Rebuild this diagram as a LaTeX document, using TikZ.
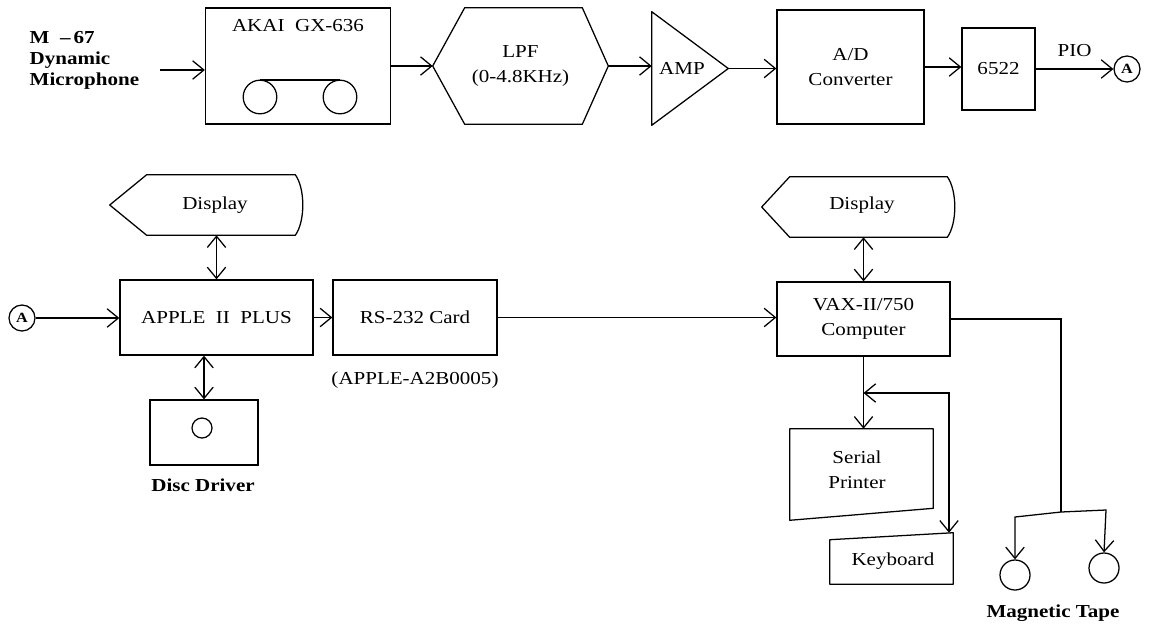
\documentclass[tikz,border=0pt]{standalone}
\usepackage{fontspec}
\setmainfont{Liberation Serif}[FakeStretch=1.15]
\usetikzlibrary{arrows.meta, positioning, calc}
\newcommand{\displayoutline}[2]{%
  \draw[outline] (#1.west) -- ([xshift=#2]#1.north west) -- ([xshift=-0.2cm]#1.north east)
    .. controls ([xshift=0.05cm,yshift=-0.35cm]#1.north east) and ([xshift=0.05cm,yshift=0.35cm]#1.south east)
    .. ([xshift=-0.2cm]#1.south east) -- ([xshift=#2]#1.south west) -- cycle;}

\begin{document}
\begin{tikzpicture}[
  x=0.025cm, y=-0.025cm,
  every node/.style={font=\fontsize{13}{18}\selectfont},
  box/.style={draw, rectangle, inner sep=0pt, align=center, line width=0.9pt},
  shell/.style={rectangle, inner sep=0pt, align=center},
  outline/.style={draw, line width=0.9pt, line join=round},
  txt/.style={align=center, inner sep=1pt},
  boldtxt/.style={txt, font=\fontsize{13}{15}\selectfont\bfseries},
  conn/.style={circle, draw, line width=0.9pt, minimum size=0.65cm, inner sep=0pt,
               font=\fontsize{10}{12}\selectfont\bfseries},
  tape/.style={circle, draw, line width=0.9pt, minimum size=0.75cm, inner sep=0pt},
  reel/.style={draw, line width=0.9pt},
  arrow/.style={-{Straight Barb[length=2.8mm, width=4.6mm]}, line width=0.9pt},
  darrow/.style={{Straight Barb[length=2.8mm, width=4.6mm]}-{Straight Barb[length=2.8mm, width=4.6mm]}, line width=0.9pt},
  plain/.style={line width=0.9pt},
]
\useasboundingbox (0,0) rectangle (1156,626);

% Row 1 -- recording chain
\node[boldtxt, align=left, anchor=north west] (mic) at (28,30) {M\ \ --\,67\\Dynamic\\Microphone};
\coordinate (micout) at (160,70);

\node[box, minimum width=4.625cm, minimum height=2.9cm] (akai) at (298,66) {};
\node[txt] (akaitxt) at (298,26) {AKAI\ \ GX-636};
\draw[reel] (260,97) circle[radius=0.42cm] (340,97) circle[radius=0.42cm];
\draw[plain] (260,80) -- (340,80);

\node[shell, minimum width=4.375cm, minimum height=2.9cm] (lpf) at (520.5,66) {LPF\\(0-4.8KHz)};
\draw[outline] (lpf.west) -- ([xshift=0.8cm]lpf.north west) -- ([xshift=-0.65cm]lpf.north east) -- (lpf.east)
  -- ([xshift=-0.65cm]lpf.south east) -- ([xshift=0.8cm]lpf.south west) -- cycle;

\node[shell, minimum width=1.9cm, minimum height=2.825cm] (amp) at (690,68.5) {};
\draw[outline] (amp.north west) -- (amp.east) -- (amp.south west) -- cycle;
\node[txt] (amptxt) at (682,68) {AMP};

\node[box, minimum width=3.675cm, minimum height=2.85cm] (adc) at (850.5,67) {A/D\\Converter};
\node[box, minimum width=1.825cm, minimum height=2.05cm] (pia) at (998.5,69) {6522};
\node[conn] (outA) at (1127,69) {A};

% Row 2 -- computers
\node[shell, minimum width=4.825cm, minimum height=1.5cm] (dispL) at (206.5,205) {};
\displayoutline{dispL}{0.925cm}
\node[txt] (dispLtxt) at (215,205) {Display};

\node[conn] (inA) at (22,318) {A};
\node[box, minimum width=4.825cm, minimum height=1.875cm] (apple) at (216.5,317.5) {APPLE\ \ II\ \ PLUS};
\node[box, minimum width=4.1cm, minimum height=1.875cm] (rs) at (415,317.5) {RS-232 Card};
\node[txt] (rsnote) at (415,380) {(APPLE-A2B0005)};

\node[box, minimum width=2.7cm, minimum height=1.625cm] (disc) at (204,432.5) {};
\draw[reel] (202,428) circle[radius=0.25cm];
\node[boldtxt] (disctxt) at (203,485) {Disc Driver};

\node[shell, minimum width=4.825cm, minimum height=1.5cm] (dispR) at (858.5,207) {};
\displayoutline{dispR}{0.7cm}
\node[txt] (dispRtxt) at (862,205) {Display};

\node[box, minimum width=4.325cm, minimum height=1.85cm] (vax) at (863.5,319) {VAX-II/750\\Computer};

\node[shell, minimum width=3.575cm, minimum height=2.275cm] (prn) at (861.5,474.5) {};
\draw[outline] (prn.north west) -- (prn.north east) -- ([yshift=0.3cm]prn.south east) -- (prn.south west) -- cycle;
\node[txt] (prntxt) at (857,470) {Serial\\Printer};

\node[shell, minimum width=3.075cm, minimum height=1.275cm] (kbd) at (891.5,558.5) {};
\draw[outline] ([yshift=-0.175cm]kbd.north west) -- (kbd.north east) -- (kbd.south east) -- (kbd.south west) -- cycle;
\node[txt] (kbdtxt) at (893,561) {Keyboard};

\node[tape] (tapeA) at (1015,575) {};
\node[tape] (tapeB) at (1104,568) {};
\node[boldtxt] (tapetxt) at (1053,613) {Magnetic Tape};

\coordinate (tapejoin) at (1061,512);
\coordinate (kbdjoin) at (949,393);

% Arrows
\draw[arrow] (micout) -- (akai.west |- micout);
\draw[arrow] (akai.east) -- (lpf.west);
\draw[arrow] (lpf.east) -- (lpf.east -| amp.west);
\draw[arrow] (amp.east) -- (amp.east -| adc.west);
\draw[arrow] (adc.east) -- (adc.east -| pia.west);
\draw[arrow] (pia.east) -- node[txt, above=7.5pt] (pio) {PIO} (outA);

\draw[arrow] (inA) -- (apple.west |- inA);
\draw[darrow] (apple.north |- dispL.south) -- (apple.north);
\draw[darrow] (apple.south -| disc.north) -- (disc.north);
\draw[arrow] (apple.east) -- (rs.west);
\draw[arrow] (rs.east) -- (rs.east -| vax.west);
\draw[darrow] (vax.north |- dispR.south) -- (vax.north);
\draw[arrow] (vax.south) -- (vax.south |- prn.north);
\draw[darrow] (vax.south |- kbdjoin) -- (kbdjoin) -- (kbdjoin |- kbd.north east);

% Tape drives
\draw[plain] (vax.east) -| (tapejoin);
\draw[arrow] (tapejoin) -- ++(-46,5) -- (tapeA.north);
\draw[arrow] (tapejoin) -- ++(45,-2) -- (tapeB.north);

\end{tikzpicture}
\end{document}
